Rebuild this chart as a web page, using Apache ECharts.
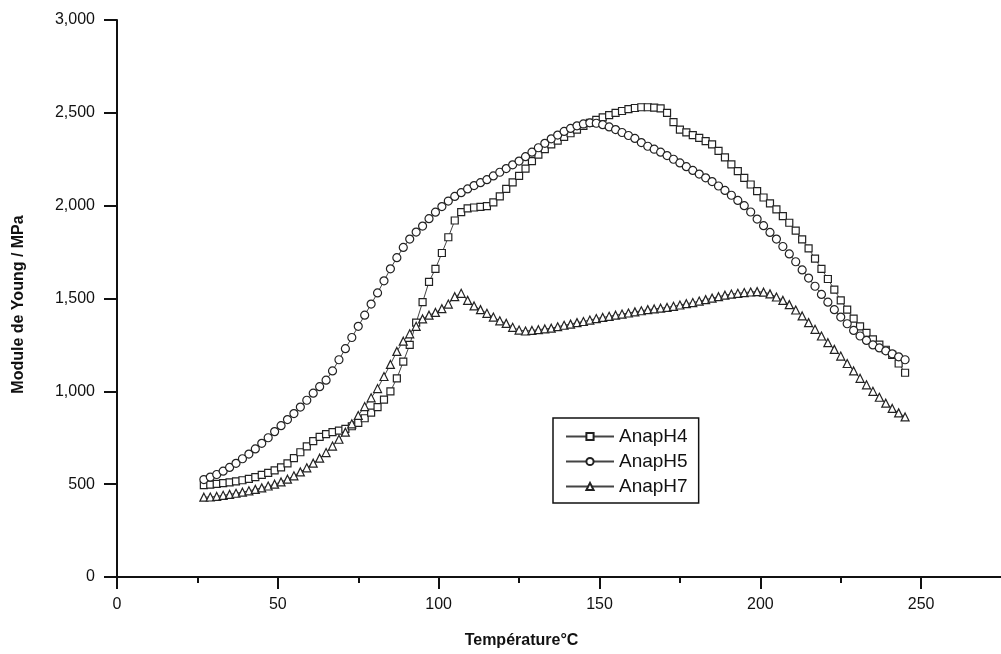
<!DOCTYPE html>
<html>
<head>
<meta charset="utf-8">
<script src="https://cdn.jsdelivr.net/npm/echarts@6/dist/echarts.min.js"></script>
<style>
html,body{margin:0;padding:0;background:#fff;}
#chart{width:1001px;height:654px;}
</style>
</head>
<body>
<div id="chart"></div>
<script>
// Temperature (°C)
const temps = [27,29,31,33,35,37,39,41,43,45,47,49,51,53,55,57,59,61,63,65,67,69,71,73,75,77,79,81,83,85,87,89,91,93,95,97,99,101,103,105,107,109,111,113,115,117,119,121,123,125,127,129,131,133,135,137,139,141,143,145,147,149,151,153,155,157,159,161,163,165,167,169,171,173,175,177,179,181,183,185,187,189,191,193,195,197,199,201,203,205,207,209,211,213,215,217,219,221,223,225,227,229,231,233,235,237,239,241,243,245];

// Module de Young (MPa)
const anapH4 = [495,498,502,506,510,515,521,528,538,550,561,574,590,612,640,672,704,732,755,770,780,788,798,812,830,855,885,915,955,1000,1070,1160,1250,1370,1480,1590,1660,1745,1830,1920,1965,1985,1990,1993,1998,2018,2050,2090,2125,2160,2200,2240,2275,2305,2330,2350,2370,2390,2410,2430,2446,2462,2476,2488,2500,2510,2520,2526,2530,2530,2528,2524,2500,2450,2410,2395,2380,2365,2348,2330,2295,2260,2222,2186,2150,2114,2078,2044,2012,1980,1944,1908,1866,1818,1770,1715,1660,1605,1548,1490,1440,1392,1350,1315,1280,1252,1224,1196,1150,1100];

const anapH5 = [525,538,552,570,590,612,637,662,690,720,750,783,815,848,880,915,952,990,1025,1060,1110,1170,1230,1290,1350,1410,1470,1530,1595,1660,1720,1775,1820,1858,1890,1930,1965,1995,2025,2050,2070,2090,2108,2124,2140,2160,2180,2200,2220,2240,2264,2288,2312,2336,2360,2380,2400,2416,2430,2440,2446,2444,2436,2424,2410,2394,2378,2362,2340,2320,2304,2288,2270,2250,2230,2210,2190,2170,2150,2130,2106,2082,2056,2028,2000,1966,1928,1892,1856,1820,1780,1740,1698,1654,1610,1566,1522,1480,1440,1400,1364,1328,1298,1274,1250,1234,1218,1202,1186,1170];

const anapH7 = [430,431,434,440,445,451,457,464,472,480,490,500,512,527,545,566,588,613,640,670,705,742,780,825,870,918,965,1015,1080,1145,1215,1270,1310,1350,1390,1410,1425,1445,1470,1510,1528,1490,1460,1440,1420,1400,1380,1366,1345,1330,1325,1328,1332,1336,1340,1348,1356,1362,1370,1376,1384,1392,1398,1404,1410,1416,1422,1428,1434,1440,1444,1448,1452,1458,1465,1472,1478,1486,1494,1502,1510,1518,1524,1528,1532,1535,1537,1534,1525,1508,1490,1467,1438,1406,1370,1334,1298,1262,1226,1190,1150,1110,1070,1035,1000,968,936,908,884,862];

const seriesNames = ['AnapH4','AnapH5','AnapH7'];
const xTitle = 'Température°C';
const yTitle = 'Module de Young / MPa';

const FONT = "'Liberation Sans', Arial, sans-serif";
const INK = '#222';

function pairs(vals){ return vals.map((v,i)=>[temps[i], v]); }

function mkSeries(name, vals, symbol, size){
  return {
    name: name,
    type: 'line',
    data: pairs(vals),
    symbol: symbol,
    symbolSize: size,
    showSymbol: true,
    lineStyle: {color: '#444', width: 1},
    itemStyle: {color: '#fff', borderColor: INK, borderWidth: 1.2},
    emphasis: {disabled: true},
    z: 3
  };
}

const chart = echarts.init(document.getElementById('chart'), null, {renderer: 'canvas'});
chart.setOption({
  animation: false,
  backgroundColor: '#fff',
  grid: {left: 117, top: 20, width: 965, height: 557, containLabel: false, outerBoundsMode: 'none'},
  xAxis: {
    type: 'value', min: 0, max: 300, interval: 50,
    name: xTitle, nameLocation: 'middle', nameGap: 56,
    nameTextStyle: {fontFamily: FONT, fontSize: 16, fontWeight: 'bold', color: '#111', padding: [0, 156, 0, 0]},
    axisLine: {show: true, onZero: false, lineStyle: {color: '#111', width: 2}},
    axisTick: {show: true, inside: false, length: 12, lineStyle: {color: '#111', width: 2}},
    minorTick: {show: true, splitNumber: 2, length: 6, lineStyle: {color: '#111', width: 2}},
    axisLabel: {fontFamily: FONT, fontSize: 16, color: '#111', margin: 20},
    splitLine: {show: false}
  },
  yAxis: {
    type: 'value', min: 0, max: 3000, interval: 500,
    name: yTitle, nameLocation: 'middle', nameGap: 90, nameRotate: 90,
    nameTextStyle: {fontFamily: FONT, fontSize: 16, fontWeight: 'bold', color: '#111', padding: [0, 12, 0, 0]},
    axisLine: {show: true, onZero: false, lineStyle: {color: '#111', width: 2}},
    axisTick: {show: true, inside: false, length: 13, lineStyle: {color: '#111', width: 2}},
    axisLabel: {fontFamily: FONT, fontSize: 16, color: '#111', margin: 22,
      formatter: v => v.toLocaleString('en-US')},
    splitLine: {show: false}
  },
  legend: {
    orient: 'vertical', left: 553, top: 418,
    data: seriesNames,
    backgroundColor: '#fff',
    borderColor: '#111', borderWidth: 1.5,
    padding: [9, 11, 7, 12],
    itemWidth: 48, itemHeight: 9, itemGap: 6,
    textStyle: {fontFamily: FONT, fontSize: 19, color: '#111'}
  },
  series: [
    mkSeries(seriesNames[0], anapH4, 'rect', 7),
    mkSeries(seriesNames[1], anapH5, 'circle', 8),
    mkSeries(seriesNames[2], anapH7, 'triangle', 8)
  ]
});
</script>
</body>
</html>
